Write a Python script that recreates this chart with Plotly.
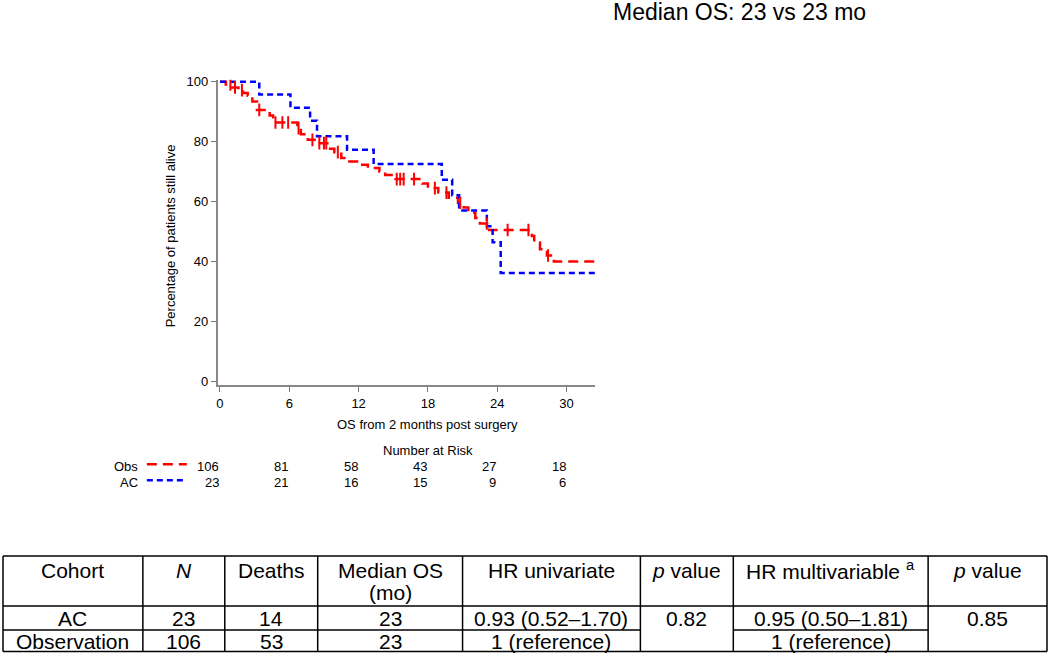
import numpy as np
import plotly.graph_objects as go

# ---------------- data ----------------
months_ticks = [0, 6, 12, 18, 24, 30]
pct_ticks = [0, 20, 40, 60, 80, 100]

obs_t = [0, 0.5, 1.0, 1.6, 2.0, 2.4, 2.8, 3.2, 4.3, 4.6, 6.7, 7.0, 7.6, 8.3, 9.4, 9.9,
         10.5, 11.2, 12.0, 12.8, 13.8, 14.3, 15.2, 17.5, 18.0, 18.9, 19.8, 20.6, 21.1,
         21.5, 22.1, 22.5, 23.3, 27.0, 27.2, 27.7, 28.3, 28.9, 32.5]
obs_s = [100, 99.1, 98.1, 97.2, 96.2, 95.3, 93.4, 90.6, 88.7, 86.4, 84.5, 82.5, 80.6,
         79.5, 77.6, 76.5, 74.5, 73.4, 72.3, 71.2, 70.0, 68.9, 67.5, 66.0, 64.5, 63.0,
         61.3, 59.6, 58.0, 56.3, 54.5, 52.7, 50.5, 48.5, 46.3, 44.1, 42.0, 40.0, 40.0]
obs_censored = [0.9, 1.3, 1.9, 3.4, 4.8, 5.4, 5.9, 6.8, 8.0, 8.6, 9.0, 9.2, 10.2, 15.3,
                15.6, 15.9, 16.8, 18.6, 19.6, 20.8, 23.1, 24.9, 26.7, 28.4]

ac_t = [0, 3.4, 6.1, 7.8, 8.4, 11.0, 13.3, 19.2, 20.1, 20.7, 23.1, 23.6, 24.3, 32.5]
ac_s = [100, 95.7, 91.3, 87.0, 81.8, 77.3, 72.5, 67.3, 62.1, 57.0, 51.8, 46.4, 36.2, 36.2]

risk_groups = ["Obs", "AC"]
risk_obs = [106, 81, 58, 43, 27, 18]
risk_ac = [23, 21, 16, 15, 9, 6]

table_header = ["Cohort", "<i>N</i>", "Deaths", "Median OS<br>(mo)", "HR univariate",
                "<i>p</i> value", "HR multivariable <sup>a</sup>", "<i>p</i> value"]
row_ac = ["AC", "23", "14", "23", "0.93 (0.52–1.70)", "0.82", "0.95 (0.50–1.81)", "0.85"]
row_obs = ["Observation", "106", "53", "23", "1 (reference)", "", "1 (reference)", ""]

title_text = "Median OS: 23 vs 23 mo"

# ---------------- layout helpers ----------------
W, H = 1050, 656
Y_SHIFT, Y_SCALE = 5.2, 0.9875   # empirical vertical correction of the capture
def px(x):
    return x / W
def py(y):
    return 1 - ((y - Y_SHIFT) / Y_SCALE) / H

RED = "#ff0000"
BLUE = "#0000ff"
FONT = "Liberation Sans, Arial, sans-serif"

fig = go.Figure()

fig.add_trace(go.Scatter(x=obs_t, y=obs_s, mode="lines", line_shape="hv",
                         line=dict(color=RED, width=2.5, dash="10px,6px"),
                         showlegend=False, hoverinfo="skip"))
fig.add_trace(go.Scatter(x=ac_t, y=ac_s, mode="lines", line_shape="hv",
                         line=dict(color=BLUE, width=2.5, dash="6px,4px"),
                         showlegend=False, hoverinfo="skip"))

obs_t_arr = np.array(obs_t)
obs_s_arr = np.array(obs_s)
idx = np.searchsorted(obs_t_arr, np.array(obs_censored), side="right") - 1
cens_y = obs_s_arr[idx]
fig.add_trace(go.Scatter(x=obs_censored, y=cens_y, mode="markers",
                         marker=dict(symbol="line-ns", size=9,
                                     line=dict(color=RED, width=2)),
                         showlegend=False, hoverinfo="skip"))

x0_px, x1_px = 217, 595
y_top_px, y_bot_px = 80, 386

fig.update_layout(
    width=W, height=H,
    margin=dict(l=0, r=0, t=0, b=0),
    paper_bgcolor="white", plot_bgcolor="white",
    font=dict(family=FONT, color="black", size=13),
    xaxis=dict(domain=[px(x0_px), px(x1_px)], range=[-0.19, 32.5],
               tickvals=months_ticks, ticks="outside", ticklen=5, tickwidth=1,
               tickcolor="#777777", showline=True, linecolor="#888888", linewidth=2,
               showgrid=False, zeroline=False, tickfont=dict(size=13)),
    yaxis=dict(domain=[py(y_bot_px), py(y_top_px)], range=[-1.33, 100.67],
               tickvals=pct_ticks, ticks="outside", ticklen=5, tickwidth=1,
               tickcolor="#777777", showline=True, linecolor="#888888", linewidth=2,
               showgrid=False, zeroline=False, tickfont=dict(size=13)),
)

ann = []
shapes = []

# titles
ann.append(dict(x=px(611), y=py(12), xref="paper", yref="paper", text=title_text,
                showarrow=False, xanchor="left", yanchor="middle",
                font=dict(size=23)))
ann.append(dict(x=px(427), y=py(425), xref="paper", yref="paper",
                text="OS from 2 months post surgery", showarrow=False,
                xanchor="center", yanchor="middle", font=dict(size=13)))
ann.append(dict(x=px(170), y=py(236), xref="paper", yref="paper",
                text="Percentage of patients still alive", showarrow=False,
                textangle=-90, xanchor="center", yanchor="middle", font=dict(size=13)))

# number at risk
ann.append(dict(x=px(427), y=py(451), xref="paper", yref="paper",
                text="Number at Risk", showarrow=False, xanchor="center",
                yanchor="middle", font=dict(size=13)))
row_y = [467, 483]
for gi, (grp, vals, col, dash) in enumerate(zip(risk_groups, [risk_obs, risk_ac],
                                                 [RED, BLUE], ["10px,6px", "6px,4px"])):
    yy = row_y[gi]
    ann.append(dict(x=px(139), y=py(yy), xref="paper", yref="paper", text=grp,
                    showarrow=False, xanchor="right", yanchor="middle",
                    font=dict(size=13)))
    shapes.append(dict(type="line", xref="paper", yref="paper",
                       x0=px(146), x1=px(186), y0=py(yy - 2), y1=py(yy - 2),
                       line=dict(color=col, width=2.5, dash=dash)))
    for t, v in zip(months_ticks, vals):
        ann.append(dict(x=t, y=py(yy), xref="x", yref="paper", text=str(v),
                        showarrow=False, xanchor="right", yanchor="middle",
                        xshift=1, font=dict(size=13)))

# table
col_edges = [2, 142, 224, 317, 462, 640, 733, 928, 1047]
t_top, t_head, t_mid, t_bot = 557, 607, 631, 652.5
line_style = dict(color="black", width=1.5)
for yv in [t_top, t_head, t_bot]:
    shapes.append(dict(type="line", xref="paper", yref="paper", x0=px(col_edges[0]),
                       x1=px(col_edges[-1]), y0=py(yv), y1=py(yv), line=line_style))
for (a, b) in [(col_edges[0], col_edges[5]), (col_edges[6], col_edges[7])]:
    shapes.append(dict(type="line", xref="paper", yref="paper", x0=px(a), x1=px(b),
                       y0=py(t_mid), y1=py(t_mid), line=line_style))
for xv in col_edges:
    shapes.append(dict(type="line", xref="paper", yref="paper", x0=px(xv), x1=px(xv),
                       y0=py(t_top), y1=py(t_bot), line=line_style))

TFS = 21
for i, txt in enumerate(table_header):
    cx = (col_edges[i] + col_edges[i + 1]) / 2
    for li, part in enumerate(txt.split("<br>")):
        ann.append(dict(x=px(cx), y=py(571 + 22 * li), xref="paper", yref="paper",
                        text=part, showarrow=False, xanchor="center",
                        yanchor="middle", font=dict(size=TFS)))
for i, txt in enumerate(row_ac):
    cx = (col_edges[i] + col_edges[i + 1]) / 2
    ann.append(dict(x=px(cx), y=py(619), xref="paper", yref="paper", text=txt,
                    showarrow=False, xanchor="center", yanchor="middle",
                    font=dict(size=TFS)))
for i, txt in enumerate(row_obs):
    if not txt:
        continue
    cx = (col_edges[i] + col_edges[i + 1]) / 2
    ann.append(dict(x=px(cx), y=py(642), xref="paper", yref="paper", text=txt,
                    showarrow=False, xanchor="center", yanchor="middle",
                    font=dict(size=TFS)))

fig.update_layout(annotations=ann, shapes=shapes)
fig.write_html("out.html", config={"displayModeBar": False},
               post_script="document.body.style.margin='0';"
                           "document.body.style.overflow='hidden';")
